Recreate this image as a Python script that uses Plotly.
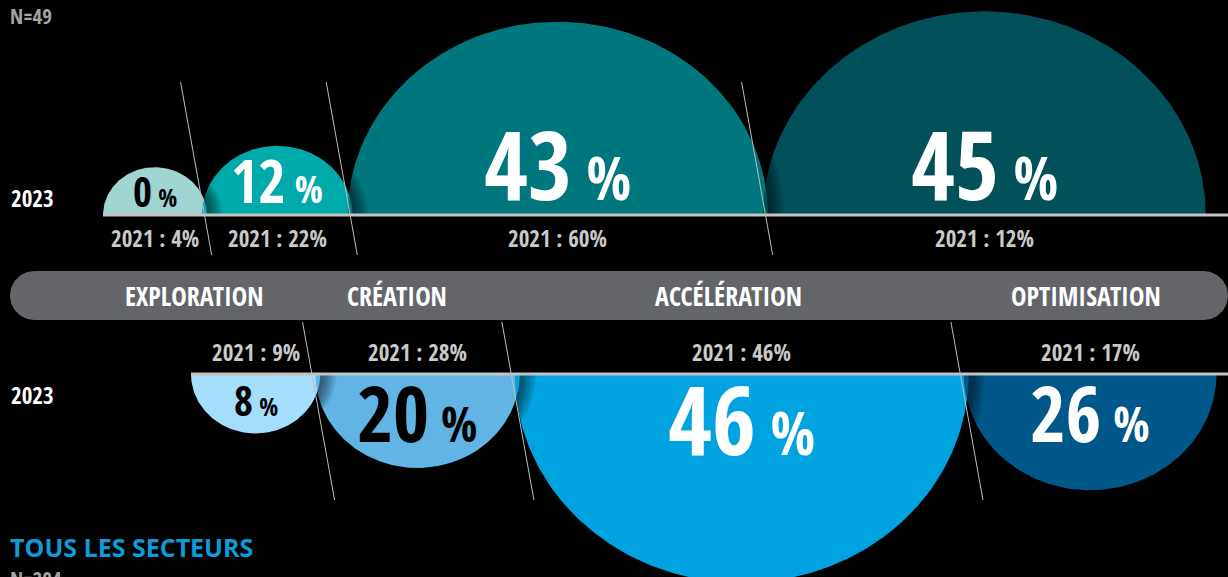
import numpy as np
import plotly.graph_objects as go

W, H = 1228, 577

phases = ["EXPLORATION", "CRÉATION", "ACCÉLÉRATION", "OPTIMISATION"]

# secteur, N=49 (demi-cercles du haut)
top_2023 = [0, 12, 43, 45]
top_2021 = [4, 22, 60, 12]
# tous les secteurs, N=204 (demi-cercles du bas)
bottom_2023 = [8, 20, 46, 26]
bottom_2021 = [9, 28, 46, 17]

top_colors = ["#9fd6d2", "#00a9aa", "#00777e", "#02515a"]
bottom_colors = ["#a5defc", "#62b4e5", "#00a3df", "#005789"]
top_text_colors = ["#000000", "#ffffff", "#ffffff", "#ffffff"]
bottom_text_colors = ["#000000", "#000000", "#ffffff", "#ffffff"]
top_font_sizes = [41, 59, 95, 95]
bottom_font_sizes = [41, 78, 95, 77]

COND = "Open Sans Condensed, Open Sans, sans-serif"
TOP_Y, BOTTOM_Y = 215, 374
TOP_X0, BOTTOM_X0 = 103, 191
OVERLAP = 5
SQUASH = 0.92


def radius(v):
    # rayon horizontal du demi-cercle en fonction du pourcentage
    return 52 + 0.561 * v ** 1.5


def row_layout(values, x0):
    centers, rxs = [], []
    left = x0
    for v in values:
        r = radius(v)
        centers.append(left + r)
        rxs.append(r)
        left = left + 2 * r - OVERLAP
    return centers, rxs


def half_ellipse(cx, rx, y0, up, n=160):
    t = np.linspace(0, np.pi, n)
    xs = cx + rx * np.cos(t)
    ys = y0 - SQUASH * rx * np.sin(t) if up else y0 + SQUASH * rx * np.sin(t)
    return xs, ys


def crescent(cx, rx, y0, d, up, n=80):
    # zone juste a droite du demi-cercle precedent (ombre portee)
    t1 = np.linspace(0, np.arccos(-d / (2 * rx)), n)
    t2 = np.linspace(np.arccos(d / (2 * rx)), 0, n)
    xs = np.concatenate([cx + d + rx * np.cos(t1), cx + rx * np.cos(t2)])
    s = np.concatenate([np.sin(t1), np.sin(t2)])
    ys = y0 - SQUASH * rx * s if up else y0 + SQUASH * rx * s
    return xs, ys


fig = go.Figure()
shapes = []
annotations = []

rows = [
    (top_2023, top_2021, top_colors, top_text_colors, top_font_sizes, TOP_Y, TOP_X0, True),
    (bottom_2023, bottom_2021, bottom_colors, bottom_text_colors, bottom_font_sizes, BOTTOM_Y, BOTTOM_X0, False),
]

for vals, prev, colors, tcolors, fsizes, y0, x0, up in rows:
    centers, rxs = row_layout(vals, x0)
    for i, v in enumerate(vals):
        xs, ys = half_ellipse(centers[i], rxs[i], y0, up)
        fig.add_trace(go.Scatter(x=xs, y=ys, fill="toself", fillcolor=colors[i],
                                 mode="lines", line=dict(width=0), hoverinfo="skip"))
        if i > 0:
            for d in range(2, 18, 2):
                cx_, cy_ = crescent(centers[i - 1], rxs[i - 1], y0, d, up)
                fig.add_trace(go.Scatter(x=cx_, y=cy_, fill="toself", fillcolor="rgba(0,0,0,0.08)",
                                         mode="lines", line=dict(width=0), hoverinfo="skip"))
        fs = fsizes[i]
        if up:
            ymid = y0 - min(15, 0.2 * fs) - 0.388 * fs
        else:
            ymid = y0 + 13 + 0.326 * fs
        annotations.append(dict(
            x=centers[i], y=ymid, xref="x", yref="y", showarrow=False,
            xanchor="center", yanchor="middle",
            text=f"{v}<span style='font-size:{round(fs * 0.62)}px'> %</span>",
            font=dict(family=COND, size=fs, color=tcolors[i], weight="bold"),
        ))
        annotations.append(dict(
            x=centers[i], y=y0 + 23 if up else y0 - 22, xref="x", yref="y", showarrow=False,
            xanchor="center", yanchor="middle", text=f"2021 : {prev[i]}%",
            font=dict(family=COND, size=23, color="#c9c9c9", weight="bold"),
        ))
    # ligne de base
    shapes.append(dict(type="line", x0=x0, x1=W, y0=y0, y1=y0, xref="x", yref="y",
                       line=dict(color="#c4c4c4", width=3)))
    # separateurs obliques
    for i in range(1, len(vals)):
        jx = centers[i] - rxs[i] + OVERLAP / 2
        if up:
            ya, yb, shift = 82, 255, 0
        else:
            ya, yb, shift = 322, 500, -6
        shapes.append(dict(type="line", xref="x", yref="y",
                           x0=jx + shift + 0.18 * (ya - y0), y0=ya,
                           x1=jx + shift + 0.18 * (yb - y0), y1=yb,
                           line=dict(color="#bdbdbd", width=1)))

# barre grise arrondie des phases
bar_l, bar_r, bar_t, bar_b = 10, 1228, 271, 320
rr = (bar_b - bar_t) / 2
a = np.linspace(np.pi / 2, 3 * np.pi / 2, 40)
bx = np.concatenate([bar_l + rr + rr * np.cos(a), bar_r - rr - rr * np.cos(a)])
by = np.concatenate([bar_t + rr - rr * np.sin(a), bar_t + rr + rr * np.sin(a)])
fig.add_trace(go.Scatter(x=bx, y=by, fill="toself", fillcolor="#636569", mode="lines",
                         line=dict(width=0), hoverinfo="skip"))

phase_x = [194, 397, 728, 1086]
for name, px_ in zip(phases, phase_x):
    annotations.append(dict(x=px_, y=296, xref="x", yref="y", showarrow=False, text=name,
                            font=dict(family=COND, size=26, color="#ffffff", weight="bold")))

for yy in [198, 395]:
    annotations.append(dict(x=9, y=yy, xref="x", yref="y", showarrow=False, xanchor="left",
                            text="2023", font=dict(family=COND, size=23, color="#ffffff", weight="bold")))

annotations.append(dict(x=8, y=0, xref="x", yref="y", showarrow=False, xanchor="left", yanchor="top",
                        text="N=49", font=dict(family=COND, size=21, color="#a3a3a3", weight="bold")))
annotations.append(dict(x=8, y=547, xref="x", yref="y", showarrow=False, xanchor="left",
                        text="TOUS LES SECTEURS",
                        font=dict(family="Open Sans, sans-serif", size=25, color="#0f9bd7", weight="bold")))
annotations.append(dict(x=8 / W, y=(H - 563) / H, xref="paper", yref="paper", showarrow=False,
                        xanchor="left", yanchor="top", text="N=204",
                        font=dict(family=COND, size=21, color="#a3a3a3", weight="bold")))

fig.update_layout(
    width=W, height=H, margin=dict(l=0, r=0, t=0, b=0),
    paper_bgcolor="#000000", plot_bgcolor="#000000", showlegend=False,
    xaxis=dict(range=[0, W], visible=False, fixedrange=True),
    yaxis=dict(range=[H, 0], visible=False, fixedrange=True),
    shapes=shapes, annotations=annotations,
)

fig.write_html("out.html", config={"displayModeBar": False},
               post_script="document.body.style.margin='0';document.body.style.overflow='hidden';")
